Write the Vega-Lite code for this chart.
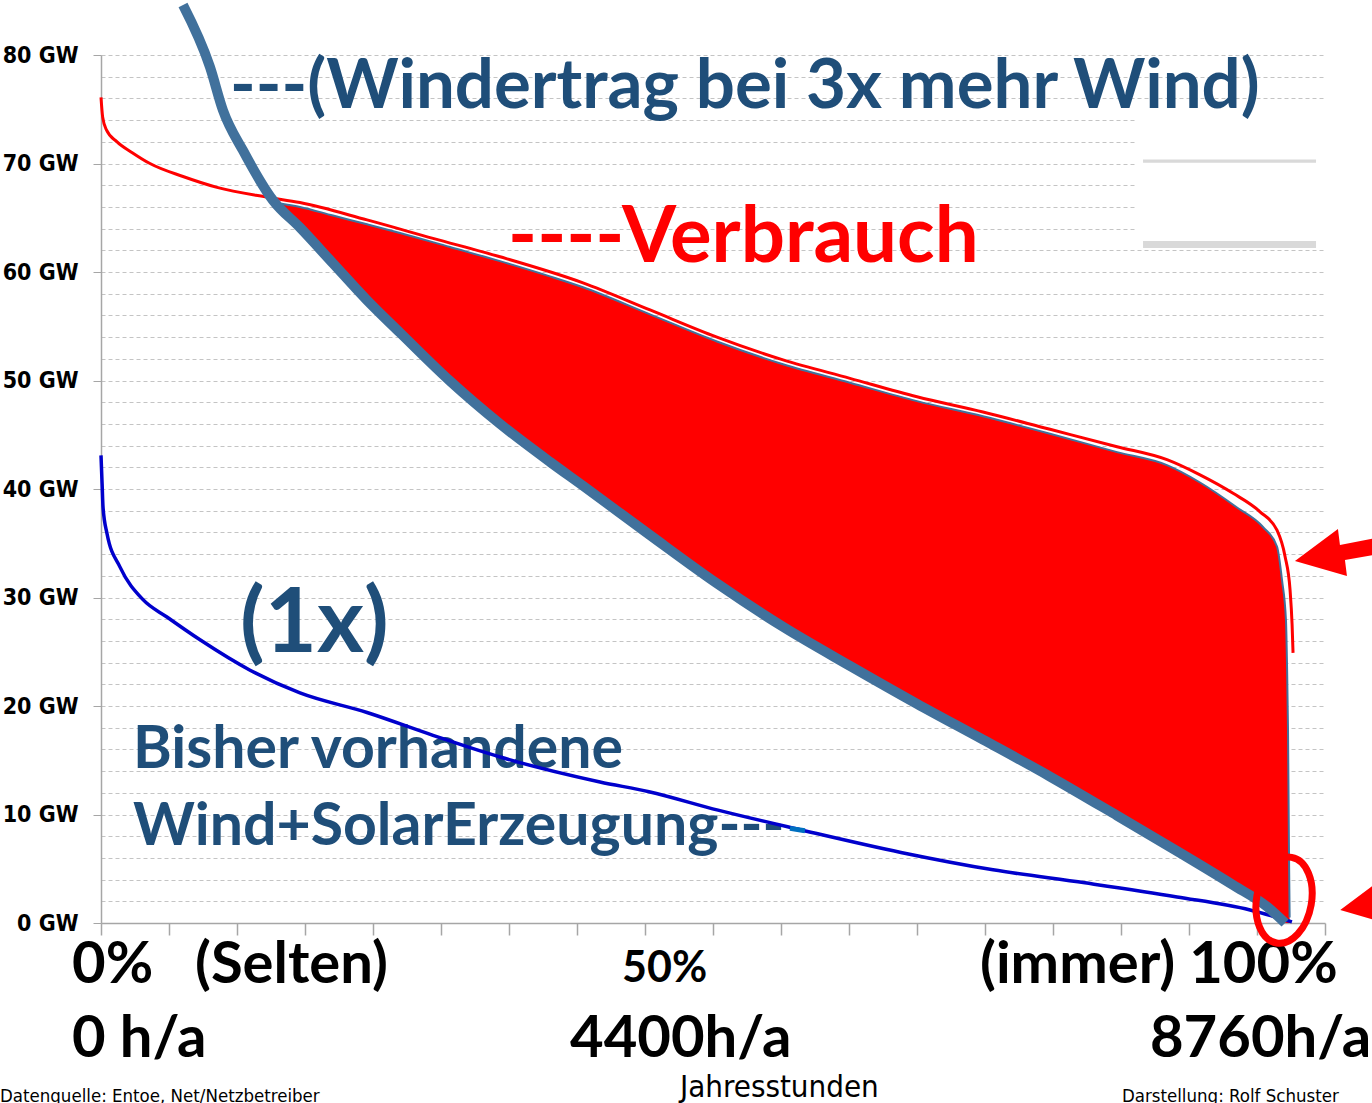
{
  "$schema": "https://vega.github.io/schema/vega-lite/v6.json",
  "width": 1224,
  "height": 868,
  "autosize": {"type": "none"},
  "padding": {"left": 101, "top": 55, "right": 47, "bottom": 180},
  "background": "#ffffff",
  "config": {"view": {"stroke": null}},
  "datasets": {
    "demand": [
      {"h": 0, "gw": 76.1}, {"h": 12, "gw": 74.3}, {"h": 40, "gw": 73.1}, {"h": 118, "gw": 72.0},
      {"h": 230, "gw": 71.0}, {"h": 360, "gw": 70.0}, {"h": 603, "gw": 68.8}, {"h": 853, "gw": 67.8},
      {"h": 1221, "gw": 66.9}, {"h": 1463, "gw": 66.4}, {"h": 1956, "gw": 64.8}, {"h": 2441, "gw": 63.1},
      {"h": 2934, "gw": 61.4}, {"h": 3544, "gw": 59.0}, {"h": 4037, "gw": 56.5}, {"h": 4529, "gw": 54.0},
      {"h": 5015, "gw": 51.9}, {"h": 5507, "gw": 50.2}, {"h": 6000, "gw": 48.5}, {"h": 6485, "gw": 47.1},
      {"h": 6978, "gw": 45.5}, {"h": 7471, "gw": 43.9}, {"h": 7838, "gw": 42.7}, {"h": 8081, "gw": 41.3},
      {"h": 8324, "gw": 39.6}, {"h": 8522, "gw": 37.9}, {"h": 8647, "gw": 36.2}, {"h": 8706, "gw": 33.8},
      {"h": 8743, "gw": 30.7}, {"h": 8758, "gw": 27.5}, {"h": 8765, "gw": 24.9}
    ],
    "wind1": [
      {"h": 0, "gw": 43.1}, {"h": 8, "gw": 40.5}, {"h": 15, "gw": 38.3}, {"h": 44, "gw": 35.9},
      {"h": 140, "gw": 32.8}, {"h": 309, "gw": 29.8}, {"h": 485, "gw": 28.2}, {"h": 728, "gw": 26.1},
      {"h": 1096, "gw": 23.3}, {"h": 1463, "gw": 21.2}, {"h": 1956, "gw": 19.4}, {"h": 2441, "gw": 17.3},
      {"h": 2934, "gw": 15.3}, {"h": 3669, "gw": 13.0}, {"h": 4029, "gw": 12.1}, {"h": 4537, "gw": 10.4},
      {"h": 5140, "gw": 8.6}, {"h": 5882, "gw": 6.5}, {"h": 6559, "gw": 4.9}, {"h": 7235, "gw": 3.7},
      {"h": 7912, "gw": 2.4}, {"h": 8449, "gw": 1.2}, {"h": 8757, "gw": 0.1}
    ],
    "marker": [{"h": 5066, "gw": 8.72}, {"h": 5176, "gw": 8.5}],
    "wind3": [
      {"h": 603, "gw": 84.6}, {"h": 801, "gw": 78.9}, {"h": 897, "gw": 74.9}, {"h": 1044, "gw": 71.2},
      {"h": 1265, "gw": 66.6}, {"h": 1463, "gw": 64.1}, {"h": 1706, "gw": 60.8}, {"h": 1956, "gw": 57.4},
      {"h": 2199, "gw": 54.4}, {"h": 2566, "gw": 49.95}, {"h": 2934, "gw": 46.0}, {"h": 3301, "gw": 42.5},
      {"h": 3544, "gw": 40.3}, {"h": 4037, "gw": 35.75}, {"h": 4529, "gw": 31.3}, {"h": 5015, "gw": 27.3},
      {"h": 5507, "gw": 23.7}, {"h": 6000, "gw": 20.2}, {"h": 6485, "gw": 16.9}, {"h": 6978, "gw": 13.5},
      {"h": 7471, "gw": 9.9}, {"h": 7956, "gw": 6.3}, {"h": 8324, "gw": 3.5}, {"h": 8574, "gw": 1.5},
      {"h": 8706, "gw": 0.0}
    ],
    "fill": [
      {"h": 1330, "gw": 66.3, "gw2": 65.9}, {"h": 1463, "gw": 66.0, "gw2": 64.1}, {"h": 1706, "gw": 65.2, "gw2": 60.8},
      {"h": 1956, "gw": 64.4, "gw2": 57.4}, {"h": 2199, "gw": 63.6, "gw2": 54.4}, {"h": 2566, "gw": 62.3, "gw2": 49.95},
      {"h": 2934, "gw": 61.0, "gw2": 46.0}, {"h": 3301, "gw": 59.6, "gw2": 42.5}, {"h": 3544, "gw": 58.6, "gw2": 40.3},
      {"h": 4037, "gw": 56.1, "gw2": 35.75}, {"h": 4529, "gw": 53.6, "gw2": 31.3}, {"h": 5015, "gw": 51.5, "gw2": 27.3},
      {"h": 5507, "gw": 49.8, "gw2": 23.7}, {"h": 6000, "gw": 48.1, "gw2": 20.2}, {"h": 6485, "gw": 46.7, "gw2": 16.9},
      {"h": 6978, "gw": 45.1, "gw2": 13.5}, {"h": 7471, "gw": 43.4, "gw2": 9.9}, {"h": 7838, "gw": 42.2, "gw2": 7.2},
      {"h": 8081, "gw": 40.6, "gw2": 5.3}, {"h": 8353, "gw": 38.3, "gw2": 3.3}, {"h": 8544, "gw": 36.5, "gw2": 1.7},
      {"h": 8647, "gw": 34.7, "gw2": 0.7}, {"h": 8684, "gw": 31.6, "gw2": 0.3}, {"h": 8713, "gw": 27.9, "gw2": 0},
      {"h": 8721, "gw": 23.6, "gw2": 0}, {"h": 8728, "gw": 17.8, "gw2": 0}, {"h": 8735, "gw": 6.7, "gw2": 0},
      {"h": 8740, "gw": 0.5, "gw2": 0}
    ],
    "box": [{"h": 7610, "h2": 9000, "gw": 62.6, "gw2": 75.0}],
    "bars": [
      {"h": 7662, "h2": 8934, "gw": 70.07, "gw2": 70.37},
      {"h": 7662, "h2": 8934, "gw": 62.21, "gw2": 62.86}
    ],
    "ellipse": [{"h": 8699, "gw": 2.1}],
    "arrows": [{"h": 8779, "gw": 33.36}, {"h": 9112, "gw": 1.2}],
    "labels": [
      {"g": "title", "t": "---(Windertrag bei 3x mehr Wind)", "h": 949, "gw": 75.1},
      {"g": "verb", "t": "----Verbrauch", "h": 2993, "gw": 60.9},
      {"g": "onex", "t": "(1x)", "h": 1022, "gw": 25.0},
      {"g": "bisher", "t": "Bisher vorhandene", "h": 235, "gw": 14.3},
      {"g": "bisher", "t": "Wind+SolarErzeugung---", "h": 235, "gw": 7.2},
      {"g": "big", "t": "0%", "h": -213, "gw": -5.53},
      {"g": "big", "t": "(Selten)", "h": 691, "gw": -5.53},
      {"g": "big", "t": "(immer) 100%", "h": 6463, "gw": -5.53},
      {"g": "big", "t": "0 h/a", "h": -213, "gw": -12.35},
      {"g": "big", "t": "4400h/a", "h": 3449, "gw": -12.35},
      {"g": "big", "t": "8760h/a", "h": 7713, "gw": -12.35},
      {"g": "fifty", "t": "50%", "h": 3831, "gw": -5.44},
      {"g": "jahr", "t": "Jahresstunden", "h": 4257, "gw": -16.05},
      {"g": "foot", "t": "Datenquelle: Entoe, Net/Netzbetreiber", "h": -743, "gw": -16.5},
      {"g": "foot", "t": "Darstellung: Rolf Schuster", "h": 7507, "gw": -16.5}
    ]
  },
  "encoding": {
    "x": {
      "field": "h", "type": "quantitative",
      "scale": {"domain": [0, 9000], "nice": false, "zero": false},
      "axis": {
        "values": [0, 500, 1000, 1500, 2000, 2500, 3000, 3500, 4000, 4500, 5000, 5500, 6000, 6500, 7000, 7500, 8000, 8500, 9000],
        "labels": false, "grid": false, "title": null,
        "tickSize": 12, "tickColor": "#a6a6a6", "domainColor": "#a6a6a6", "tickWidth": 1.5, "domainWidth": 1.5
      }
    },
    "y": {
      "field": "gw", "type": "quantitative",
      "scale": {"domain": [0, 80], "nice": false, "zero": false},
      "axis": {
        "values": [0, 2, 4, 6, 8, 10, 12, 14, 16, 18, 20, 22, 24, 26, 28, 30, 32, 34, 36, 38, 40, 42, 44, 46, 48, 50, 52, 54, 56, 58, 60, 62, 64, 66, 68, 70, 72, 74, 76, 78, 80],
        "labelExpr": "datum.value % 10 === 0 ? datum.value + ' GW' : ''",
        "labelOverlap": false,
        "tickOpacity": {"condition": {"test": "datum.value % 10 === 0", "value": 1}, "value": 0},
        "grid": true, "gridDash": [4, 3], "gridColor": "#c4c4c4", "gridWidth": 1,
        "tickSize": 8, "tickColor": "#a6a6a6", "domainColor": "#a6a6a6", "domainWidth": 1.5,
        "labelPadding": 15, "labelFont": "DejaVu Sans Condensed, Lato", "labelFontSize": 23,
        "labelFontWeight": "bold", "labelColor": "#000000", "title": null
      }
    }
  },
  "layer": [
    {
      "data": {"name": "box"},
      "mark": {"type": "rect", "fill": "#ffffff", "stroke": null},
      "encoding": {"x2": {"field": "h2"}, "y2": {"field": "gw2"}}
    },
    {
      "data": {"name": "bars"},
      "mark": {"type": "rect", "fill": "#d9d9d9", "stroke": null},
      "encoding": {"x2": {"field": "h2"}, "y2": {"field": "gw2"}}
    },
    {
      "data": {"name": "fill"},
      "mark": {"type": "area", "color": "#ff0000", "interpolate": "monotone", "opacity": 1},
      "encoding": {"y2": {"field": "gw2"}}
    },
    {
      "data": {"name": "fill"},
      "mark": {"type": "line", "color": "#41719c", "strokeWidth": 2, "interpolate": "monotone"},
      "encoding": {}
    },
    {
      "data": {"name": "demand"},
      "mark": {"type": "line", "color": "#ff0000", "strokeWidth": 3, "interpolate": "monotone"},
      "encoding": {}
    },
    {
      "data": {"name": "labels"},
      "transform": [{"filter": "datum.g === 'title'"}],
      "mark": {"type": "text", "align": "left", "baseline": "alphabetic", "font": "Lato", "fontWeight": "bold", "fontSize": 69, "color": "#1f4e79"},
      "encoding": {"text": {"field": "t"}}
    },
    {
      "data": {"name": "labels"},
      "transform": [{"filter": "datum.g === 'verb'"}],
      "mark": {"type": "text", "align": "left", "baseline": "alphabetic", "font": "Lato", "fontWeight": "bold", "fontSize": 78, "color": "#ff0000"},
      "encoding": {"text": {"field": "t"}}
    },
    {
      "data": {"name": "labels"},
      "transform": [{"filter": "datum.g === 'onex'"}],
      "mark": {"type": "text", "align": "left", "baseline": "alphabetic", "font": "Lato", "fontWeight": "bold", "fontSize": 90, "color": "#1f4e79"},
      "encoding": {"text": {"field": "t"}}
    },
    {
      "data": {"name": "labels"},
      "transform": [{"filter": "datum.g === 'bisher'"}],
      "mark": {"type": "text", "align": "left", "baseline": "alphabetic", "font": "Lato", "fontWeight": "bold", "fontSize": 59, "color": "#1f4e79"},
      "encoding": {"text": {"field": "t"}}
    },
    {
      "data": {"name": "labels"},
      "transform": [{"filter": "datum.g === 'big'"}],
      "mark": {"type": "text", "align": "left", "baseline": "alphabetic", "font": "Lato", "fontWeight": "bold", "fontSize": 58, "color": "#000000"},
      "encoding": {"text": {"field": "t"}}
    },
    {
      "data": {"name": "labels"},
      "transform": [{"filter": "datum.g === 'fifty'"}],
      "mark": {"type": "text", "align": "left", "baseline": "alphabetic", "font": "Lato", "fontWeight": "bold", "fontSize": 43, "color": "#000000"},
      "encoding": {"text": {"field": "t"}}
    },
    {
      "data": {"name": "labels"},
      "transform": [{"filter": "datum.g === 'jahr'"}],
      "mark": {"type": "text", "align": "left", "baseline": "alphabetic", "font": "DejaVu Sans Condensed, Lato", "fontSize": 31, "color": "#000000"},
      "encoding": {"text": {"field": "t"}}
    },
    {
      "data": {"name": "labels"},
      "transform": [{"filter": "datum.g === 'foot'"}],
      "mark": {"type": "text", "align": "left", "baseline": "alphabetic", "font": "DejaVu Sans Condensed, Lato", "fontSize": 18.5, "color": "#000000"},
      "encoding": {"text": {"field": "t"}}
    },
    {
      "data": {"name": "wind1"},
      "mark": {"type": "line", "color": "#0000cc", "strokeWidth": 3.5, "interpolate": "monotone"},
      "encoding": {}
    },
    {
      "data": {"name": "marker"},
      "mark": {"type": "line", "color": "#0070c0", "strokeWidth": 5},
      "encoding": {}
    },
    {
      "data": {"name": "wind3"},
      "mark": {"type": "line", "color": "#41719c", "strokeWidth": 10, "interpolate": "monotone", "strokeCap": "butt"},
      "encoding": {}
    },
    {
      "data": {"name": "ellipse"},
      "mark": {"type": "point", "shape": "M0,-43.5A27.5,43.5 0 1,1 0,43.5A27.5,43.5 0 1,1 0,-43.5Z", "size": 4, "filled": false, "stroke": "#ff0000", "strokeWidth": 7, "opacity": 1, "angle": 10},
      "encoding": {}
    },
    {
      "data": {"name": "arrows"},
      "mark": {"type": "point", "shape": "M0,0L43,-32L45,-16L90,-25L90,-8L50,-1L52,15Z", "size": 4, "filled": true, "fill": "#ff0000", "strokeWidth": 0, "opacity": 1},
      "encoding": {}
    }
  ]
}
